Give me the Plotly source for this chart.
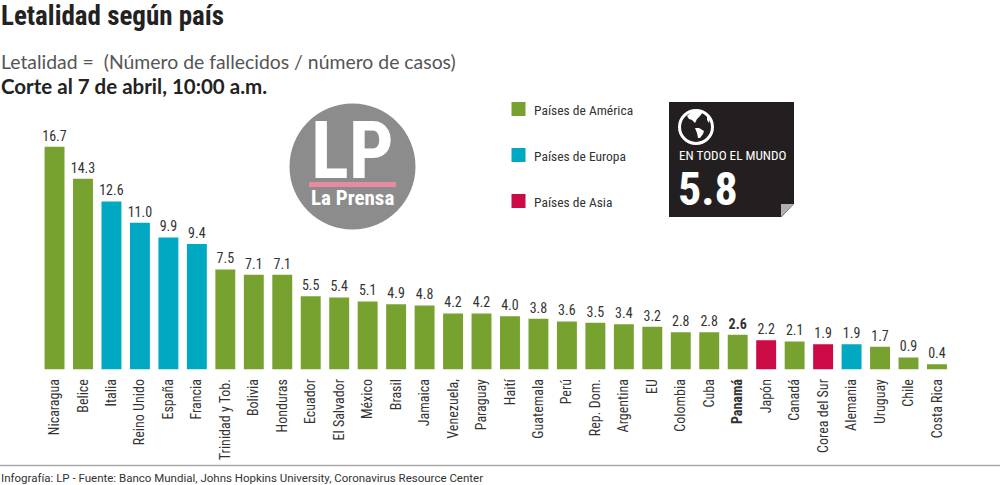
import plotly.graph_objects as go

countries = ["Nicaragua","Belice","Italia","Reino Unido","España","Francia","Trinidad y Tob.","Bolivia","Honduras","Ecuador","El Salvador","México","Brasil","Jamaica","Venezuela,","Paraguay","Haití","Guatemala","Perú","Rep. Dom.","Argentina","EU","Colombia","Cuba","Panamá","Japón","Canadá","Corea del Sur","Alemania","Uruguay","Chile","Costa Rica"]
values = [16.7,14.3,12.6,11.0,9.9,9.4,7.5,7.1,7.1,5.5,5.4,5.1,4.9,4.8,4.2,4.2,4.0,3.8,3.6,3.5,3.4,3.2,2.8,2.8,2.6,2.2,2.1,1.9,1.9,1.7,0.9,0.4]
regions = ["A","A","E","E","E","E","A","A","A","A","A","A","A","A","A","A","A","A","A","A","A","A","A","A","A","S","A","S","E","A","A","A"]
highlight = "Panamá"
region_names = {"A":"Países de América","E":"Países de Europa","S":"Países de Asia"}
region_colors = {"A":"#78A22F","E":"#00A8C2","S":"#CC0A45"}

W, H = 1000, 485
NARROW = "Roboto Condensed, DejaVu Sans Condensed, Roboto, sans-serif"
def X(p): return p / W
def Y(p): return 1 - p / H

fmt = lambda c, t: f"<b>{t}</b>" if c == highlight else t
bar_text = [fmt(c, f"{v:.1f}") for c, v in zip(countries, values)]
tick_text = [fmt(c, c) for c in countries]

fig = go.Figure(go.Bar(
    x=list(range(len(countries))), y=values,
    marker=dict(color=[region_colors[r] for r in regions], line_width=0),
    width=0.70, text=bar_text, textposition="outside", cliponaxis=False, constraintext="none",
    textfont=dict(family=NARROW, size=14, color="#333333"),
))

shapes, ann = [], []
def text(x, y, t, size, color="#222222", family=NARROW, anchor="left", **kw):
    ann.append(dict(x=X(x), y=Y(y), xref="paper", yref="paper", text=t, showarrow=False,
                    xanchor=anchor, yanchor="middle", align="left", borderpad=0,
                    font=dict(family=family, size=size, color=color), **kw))
def rect(x0, y0, x1, y1, color):
    shapes.append(dict(type="rect", xref="paper", yref="paper", x0=X(x0), x1=X(x1),
                       y0=Y(y0), y1=Y(y1), fillcolor=color, line_width=0))
def circle(cx, cy, r, color, line=None, lw=0):
    shapes.append(dict(type="circle", xref="paper", yref="paper", x0=X(cx-r), x1=X(cx+r),
                       y0=Y(cy-r), y1=Y(cy+r), fillcolor=color,
                       line=dict(color=line or color, width=lw)))
def poly(pts, color):
    d = "M " + " L ".join(f"{X(a):.5f},{Y(b):.5f}" for a, b in pts) + " Z"
    shapes.append(dict(type="path", xref="paper", yref="paper", path=d, fillcolor=color, line_width=0))

# headings
text(0, 16.5, "<b>Letalidad según país</b>", 27, "#222222")
text(0, 62, "Letalidad =  (Número de fallecidos / número de casos)", 19.4, "#555555", "Lato")
text(0, 86, "<b>Corte al 7 de abril, 10:00 a.m.</b>", 20.5, "#222222", "Lato")

# legend
for yc, k in zip([109, 155, 201], ["A", "E", "S"]):
    rect(511.5, yc-7, 525.5, yc+7, region_colors[k])
    text(532.5, yc+1, region_names[k], 13.5, "#333333")

# logo
circle(352.5, 166.5, 63, "#8C8C8C")
text(310, 151, "<b>LP</b>", 79, "#FFFFFF", NARROW, height=60, width=90)
rect(309, 182, 396, 187, "#E98BA0")
text(310, 198, "<b>La Prensa</b>", 21, "#FFFFFF", NARROW, width=92, height=20)

# world box
rect(669, 102, 794, 217, "#231F20")
poly([(794, 204), (794, 217.5), (781, 217.5)], "#FFFFFF")
poly([(781, 204), (794, 204), (781, 217)], "#B0B0B0")
circle(696, 127, 16.5, "#231F20", "#FFFFFF", 3)
poly([(687,116),(691,112),(698,111),(703,112),(700,116),(697,119),(695,123),(692,120),(689,119)], "#FFFFFF")
poly([(695,128),(699,128),(704,131),(703,134),(700,138),(698,138),(697,133)], "#FFFFFF")
poly([(707,113),(710,118),(709,123),(707,120)], "#FFFFFF")
text(677.5, 156, "EN TODO EL MUNDO", 13.2, "#FFFFFF")
text(677, 189.5, "<b>5.8</b>", 46, "#FFFFFF")

# footer
shapes.append(dict(type="line", xref="paper", yref="paper", x0=0, x1=1, y0=Y(465.5), y1=Y(465.5),
                   line=dict(color="#A8A8A8", width=1.5)))
text(0, 478, "Infografía: LP - Fuente: Banco Mundial, Johns Hopkins University, Coronavirus Resource Center", 11.5, "#333333", "Roboto")

base, per_unit, ymax = 369.5, 13.34, 20
fig.update_layout(
    width=W, height=H, margin=dict(l=0, r=0, t=0, b=0, pad=0), autosize=False,
    paper_bgcolor="white", plot_bgcolor="white", showlegend=False,
    shapes=shapes, annotations=ann, bargap=0.3,
    xaxis=dict(domain=[X(40.3), X(951.2)], range=[-0.5, len(countries)-0.5],
               tickmode="array", tickvals=list(range(len(countries))), ticktext=tick_text,
               tickangle=-90, ticks="outside", ticklen=3, tickcolor="rgba(0,0,0,0)", showline=False, showgrid=False, zeroline=False,
               tickfont=dict(family=NARROW, size=14, color="#333333"), automargin=False),
    yaxis=dict(domain=[Y(base), Y(base - ymax*per_unit)], range=[0, ymax], visible=False),
)
fig.write_html("out.html", config={"displayModeBar": False},
               post_script="document.body.style.margin='0';")
